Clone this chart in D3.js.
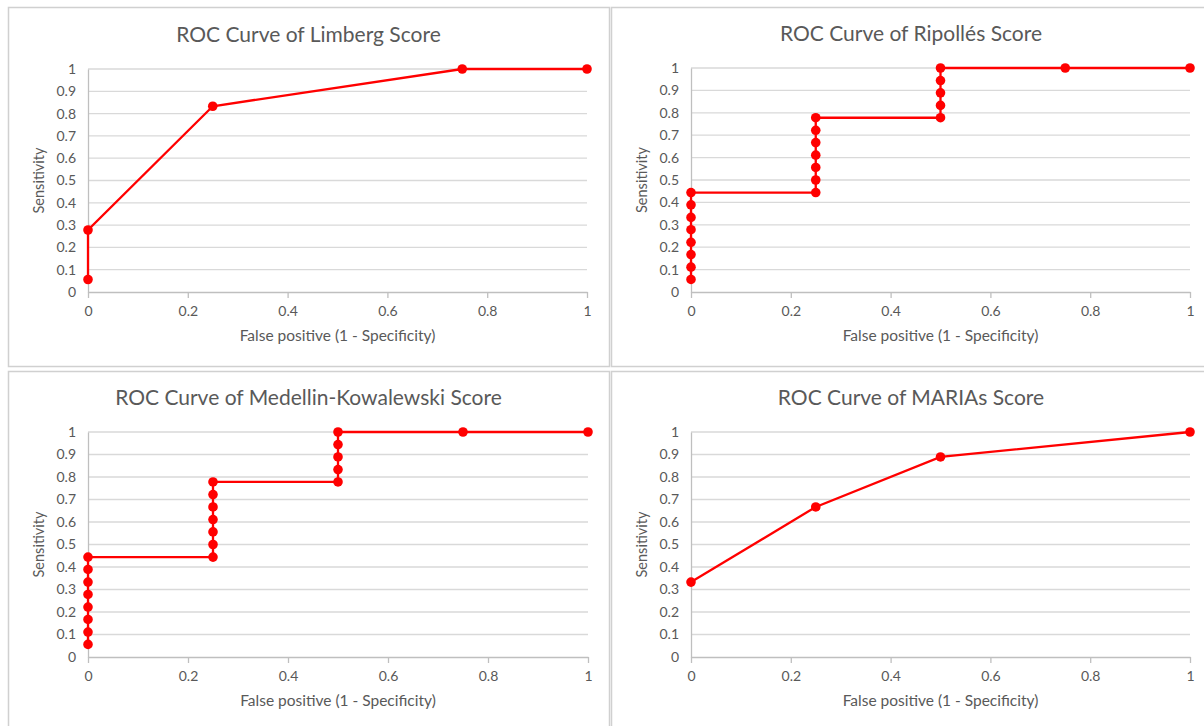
<!DOCTYPE html>
<html><head><meta charset="utf-8">
<script src="https://cdn.jsdelivr.net/npm/d3@7"></script>
<style>body{margin:0;background:#fff;}svg{display:block;font-family:Lato,"Open Sans",sans-serif;}</style>
</head><body>
<svg id="c" width="1204" height="726"></svg>
<script>
const titles = ["ROC Curve of Limberg Score","ROC Curve of Ripollés Score","ROC Curve of Medellin-Kowalewski Score","ROC Curve of MARIAs Score"];
const xTicks = [0,0.2,0.4,0.6,0.8,1];
const yTicks = [0,0.1,0.2,0.3,0.4,0.5,0.6,0.7,0.8,0.9,1];
const xLabel = "False positive (1 - Specificity)";
const yLabel = "Sensitivity";
const limbergFPR = [0,0,0.25,0.75,1];
const limbergTPR = [0.056,0.278,0.833,1,1];
const ripollesFPR = [0,0,0,0,0,0,0,0,0.25,0.25,0.25,0.25,0.25,0.25,0.25,0.5,0.5,0.5,0.5,0.5,0.75,1];
const ripollesTPR = [0.056,0.111,0.167,0.222,0.278,0.333,0.389,0.444,0.444,0.5,0.556,0.611,0.667,0.722,0.778,0.778,0.833,0.889,0.944,1,1,1];
const medellinFPR = [0,0,0,0,0,0,0,0,0.25,0.25,0.25,0.25,0.25,0.25,0.25,0.5,0.5,0.5,0.5,0.5,0.75,1];
const medellinTPR = [0.056,0.111,0.167,0.222,0.278,0.333,0.389,0.444,0.444,0.5,0.556,0.611,0.667,0.722,0.778,0.778,0.833,0.889,0.944,1,1,1];
const mariasFPR = [0,0.25,0.5,1];
const mariasTPR = [0.333,0.667,0.889,1];

const series = [[limbergFPR,limbergTPR],[ripollesFPR,ripollesTPR],[medellinFPR,medellinTPR],[mariasFPR,mariasTPR]];
// layout
const panels = [
  {bx:8,by:7,bw:601,bh:359, x0:88,x1:587,y0:292,y1:69},
  {bx:611,by:7,bw:600,bh:359, x0:691,x1:1190,y0:292,y1:68},
  {bx:8,by:371,bw:601,bh:365, x0:88,x1:588,y0:657,y1:432},
  {bx:611,by:371,bw:600,bh:365, x0:691,x1:1190,y0:657,y1:432}
];
const svg = d3.select("#c");
svg.append("rect").attr("width",1204).attr("height",726).attr("fill","#fff");
const txt = "#595959";
panels.forEach((p,i)=>{
  const g = svg.append("g");
  g.append("rect").attr("x",p.bx+0.5).attr("y",p.by+0.5).attr("width",p.bw).attr("height",p.bh)
    .attr("fill","#fff").attr("stroke","#d0d0d0").attr("stroke-width",1.5);
  const x = d3.scaleLinear().domain([0,1]).range([p.x0,p.x1]);
  const y = d3.scaleLinear().domain([0,1]).range([p.y0,p.y1]);
  // gridlines
  g.append("g").selectAll("line").data(yTicks.filter(d=>d>0)).join("line")
    .attr("x1",p.x0).attr("x2",p.x1).attr("y1",d=>y(d)).attr("y2",d=>y(d))
    .attr("stroke","#d9d9d9").attr("stroke-width",1.3);
  // y axis
  const ya = g.append("g").attr("transform",`translate(${p.x0},0)`)
    .call(d3.axisLeft(y).tickValues(yTicks).tickFormat(d3.format("~g")).tickSize(0).tickPadding(12));
  ya.select(".domain").attr("stroke","#bfbfbf").attr("stroke-width",1.3);
  ya.selectAll("text").attr("fill",txt).attr("font-size",14).attr("font-family","Lato");
  // x axis
  const xa = g.append("g").attr("transform",`translate(0,${p.y0})`)
    .call(d3.axisBottom(x).tickValues(xTicks).tickFormat(d3.format("~g")).tickSize(6).tickSizeOuter(0).tickPadding(8));
  xa.select(".domain").attr("stroke","#bfbfbf").attr("stroke-width",1.3);
  xa.selectAll(".tick line").attr("stroke","#bfbfbf").attr("stroke-width",1.3);
  xa.selectAll("text").attr("fill",txt).attr("font-size",14).attr("font-family","Lato");
  // titles
  g.append("text").attr("x",p.bx+p.bw/2).attr("y",p.y1-27).attr("text-anchor","middle")
    .attr("fill",txt).attr("font-size",21).text(titles[i]);
  g.append("text").attr("x",(p.x0+p.x1)/2).attr("y",p.y0+49).attr("text-anchor","middle")
    .attr("fill",txt).attr("font-size",15.5).text(xLabel);
  g.append("text").attr("transform",`translate(${p.x0-44},${(p.y0+p.y1)/2})rotate(-90)`).attr("text-anchor","middle")
    .attr("fill",txt).attr("font-size",14.5).text(yLabel);
  // data
  const [fx,fy] = series[i];
  const pts = fx.map((v,k)=>[v,fy[k]]);
  g.append("path").datum(pts).attr("fill","none").attr("stroke","#ff0000").attr("stroke-width",2.3)
    .attr("d",d3.line().x(d=>x(d[0])).y(d=>y(d[1])));
  g.append("g").selectAll("circle").data(pts).join("circle")
    .attr("cx",d=>x(d[0])).attr("cy",d=>y(d[1])).attr("r",4.8).attr("fill","#ff0000");
});
</script>
</body></html>
